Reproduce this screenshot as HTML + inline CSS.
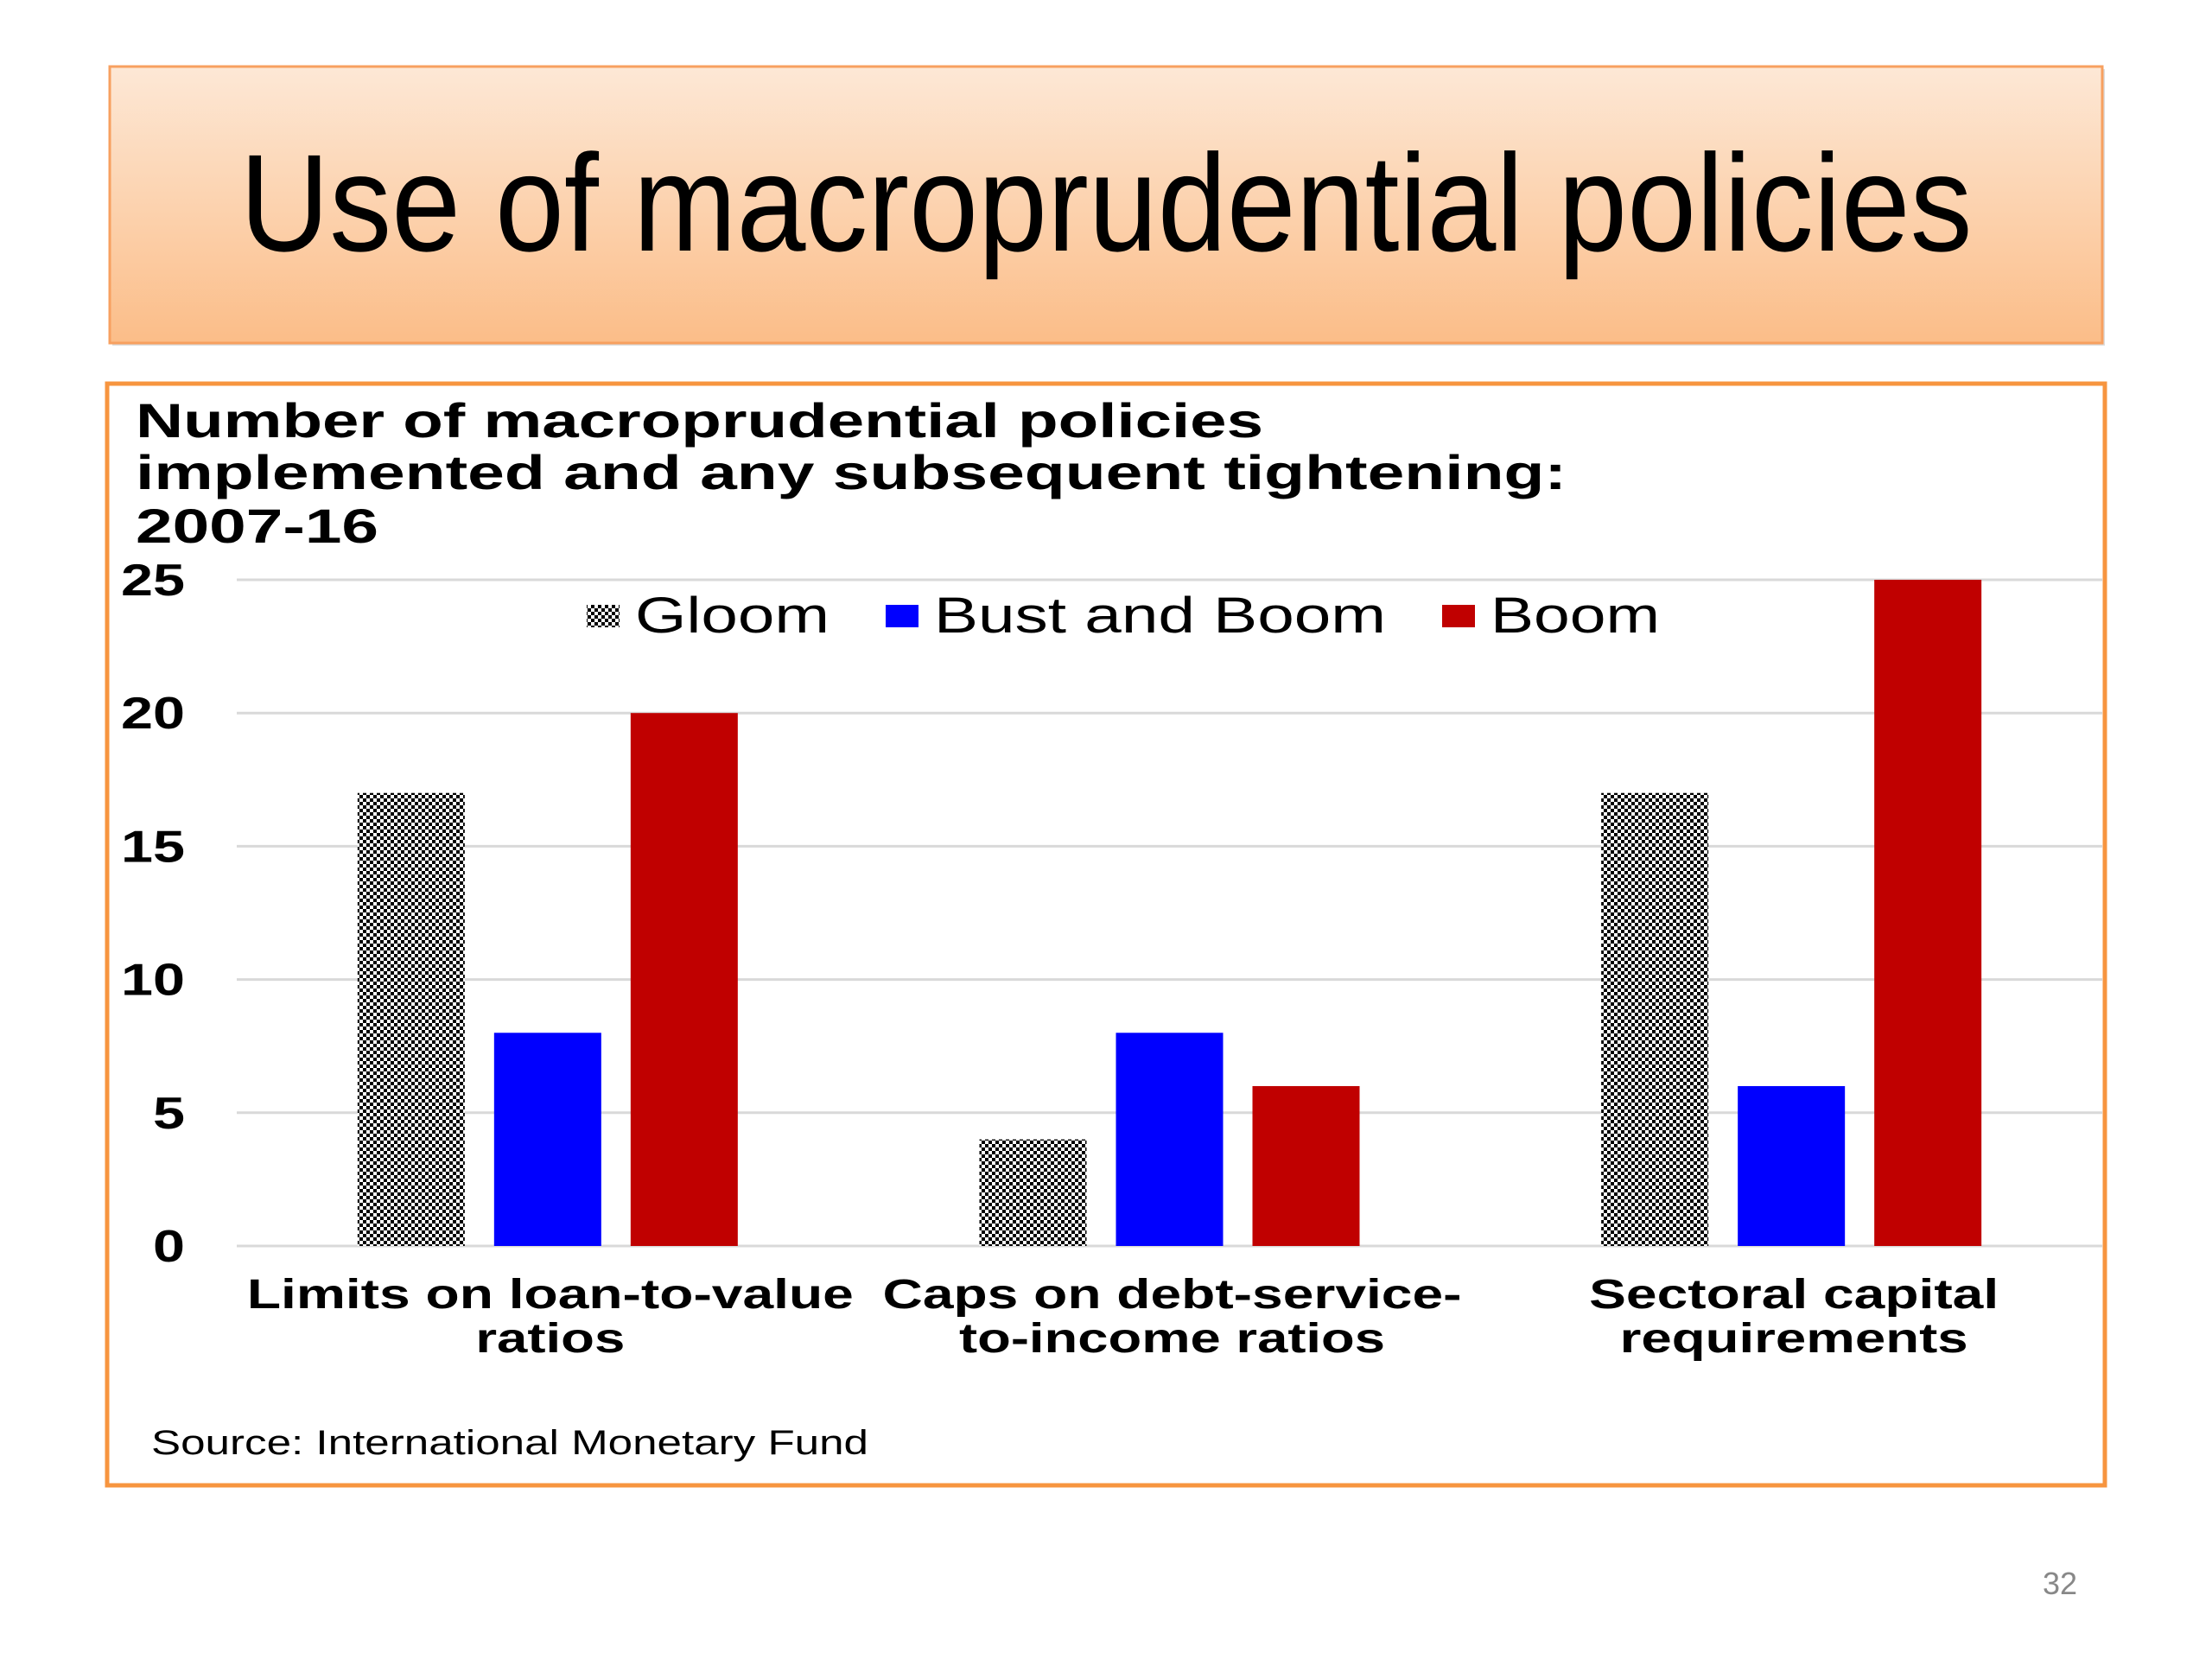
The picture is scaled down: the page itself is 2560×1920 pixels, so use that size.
<!DOCTYPE html>
<html><head><meta charset="utf-8"><style>
html,body{margin:0;padding:0;background:#fff;}
svg{display:block;}
</style></head><body>
<svg width="2560" height="1920" viewBox="0 0 2560 1920" xmlns="http://www.w3.org/2000/svg">
<defs>
<linearGradient id="hdr" x1="0" y1="0" x2="0" y2="1">
<stop offset="0" stop-color="#fde8d6"/><stop offset="1" stop-color="#fbbd88"/>
</linearGradient>
<pattern id="chk" width="8" height="8" patternUnits="userSpaceOnUse">
<rect width="8" height="8" fill="#fff"/>
<rect width="4" height="4" fill="#000"/><rect x="4" y="4" width="4" height="4" fill="#000"/>
</pattern>
</defs>
<rect x="130" y="80" width="2306" height="320" fill="#bbb" opacity="0.5"/>
<rect x="127" y="77" width="2306" height="320" fill="url(#hdr)" stroke="#f7a060" stroke-width="3"/>
<text x="1280" y="290" text-anchor="middle" font-family="'Liberation Sans Narrow','Liberation Sans',sans-serif" font-size="160" textLength="2005" lengthAdjust="spacingAndGlyphs" fill="#000">Use of macroprudential policies</text>
<rect x="124" y="444" width="2312" height="1275" fill="#fff" stroke="#f7953f" stroke-width="5"/>
<g font-family="'Liberation Sans',sans-serif" font-weight="bold" font-size="56" fill="#000">
<text x="157" y="506" textLength="1305" lengthAdjust="spacingAndGlyphs">Number of macroprudential policies</text>
<text x="157" y="566" textLength="1656" lengthAdjust="spacingAndGlyphs">implemented and any subsequent tightening:</text>
<text x="157" y="628" textLength="281" lengthAdjust="spacingAndGlyphs">2007-16</text>
</g>
<g id="chart"></g>
<text x="175" y="1683" font-family="'Liberation Sans',sans-serif" font-size="40" fill="#000" textLength="830" lengthAdjust="spacingAndGlyphs">Source: International Monetary Fund</text>
<text x="2384" y="1845" text-anchor="middle" font-family="'Liberation Sans Narrow','Liberation Sans',sans-serif" font-size="36" fill="#888">32</text>
</svg>
<script>
const categories = [["Limits on loan-to-value","ratios"],["Caps on debt-service-","to-income ratios"],["Sectoral capital","requirements"]];
const seriesNames = ["Gloom","Bust and Boom","Boom"];
const gloom = [17,4,17];
const bustBoom = [8,8,6];
const boom = [20,6,25];
const yTicks = [0,5,10,15,20,25];

const NS="http://www.w3.org/2000/svg";
const g=document.getElementById('chart');
const X0=274,X1=2433,Y0=1442,Y1=671,YMAX=25;
const y=v=>Y0-(v/YMAX)*(Y0-Y1);
const band=(X1-X0)/categories.length;
const cx=i=>X0+band*(i+0.5);
const fills=["url(#chk)","#0000ff","#c00000"];
const series=[gloom,bustBoom,boom];
const BW=124,STEP=158;
const catW=[[702,173],[670,493],[474,403]];
const legW=[225,523,196];
function el(t,a){const e=document.createElementNS(NS,t);for(const k in a)e.setAttribute(k,a[k]);g.appendChild(e);return e;}
yTicks.forEach(t=>{
  const l=el('line',{x1:X0,x2:X1,y1:y(t),y2:y(t),stroke:'#d9d9d9','stroke-width':3});
  
  
  const s=String(t);
  const tx=el('text',{x:214,y:y(t)+18,'text-anchor':'end','font-family':"'Liberation Sans',sans-serif",'font-weight':'bold','font-size':52,textLength:s.length*37,lengthAdjust:'spacingAndGlyphs'});
  tx.textContent=s;
  
  
});
series.forEach((s,si)=>{
  s.forEach((v,i)=>{
    const x=cx(i)+(si-1)*STEP-BW/2;
    const r=el('rect',{x:x,y:y(v),width:BW,height:Y0-y(v),fill:fills[si]});
    
    
  });
});
categories.forEach((c,i)=>{
  c.forEach((line,j)=>{
    const t=el('text',{x:cx(i)+3,y:1514+j*51,'text-anchor':'middle','font-family':"'Liberation Sans',sans-serif",'font-weight':'bold','font-size':48,textLength:catW[i][j],lengthAdjust:'spacingAndGlyphs'});
    t.textContent=line;
    
    
  });
});
const legX=[679,1025,1669];
seriesNames.forEach((n,i)=>{
  const sw=el('rect',{x:legX[i],y:700,width:38,height:26,fill:fills[i]});
  
  
  const t=el('text',{x:legX[i]+56,y:732,'font-family':"'Liberation Sans',sans-serif",'font-size':58,textLength:legW[i],lengthAdjust:'spacingAndGlyphs'});
  t.textContent=n;
  
  
});
</script>
</body></html>
